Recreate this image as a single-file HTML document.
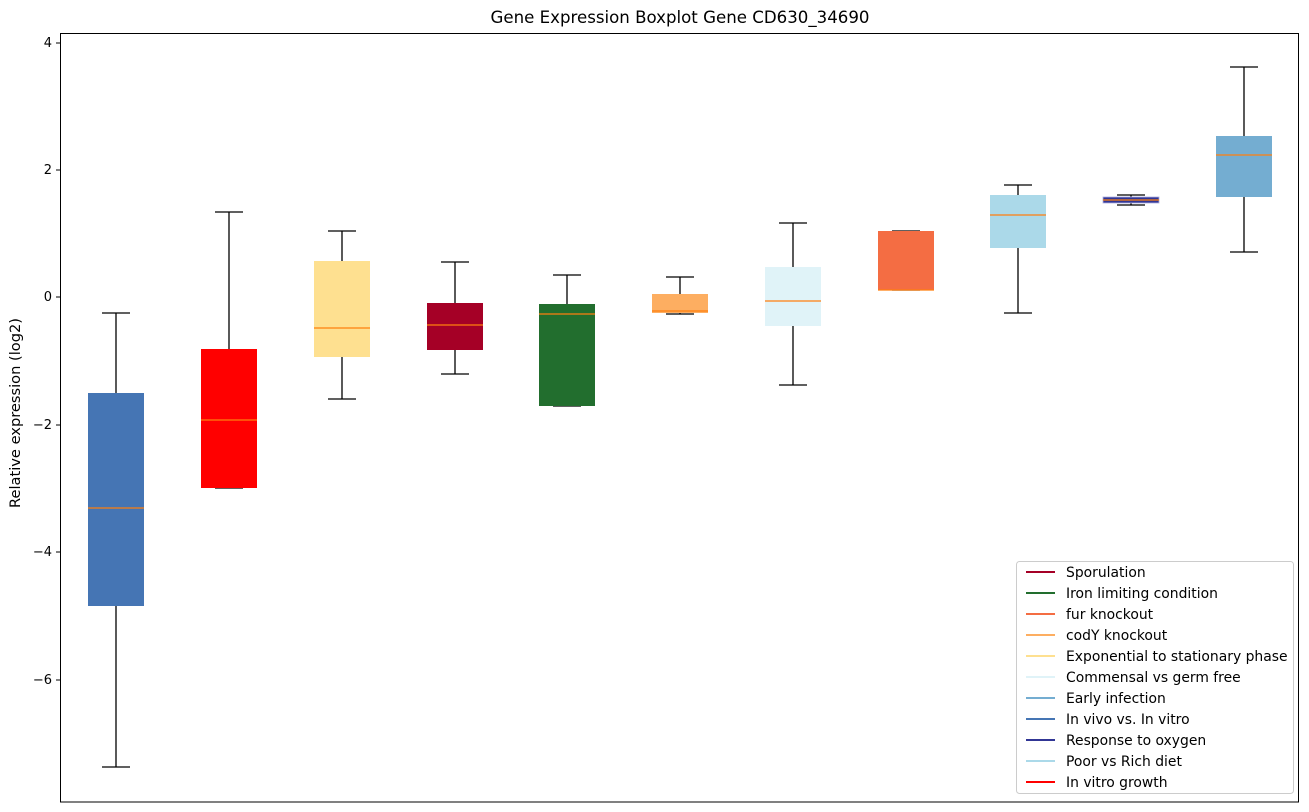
<!DOCTYPE html>
<html><head><meta charset="utf-8"><style>body{margin:0;background:#fff}svg{display:block}text{font-family:"DejaVu Sans","Liberation Sans",sans-serif}</style></head><body>
<svg width="1309" height="812" viewBox="0 0 1309 812" xmlns="http://www.w3.org/2000/svg">
<text x="680" y="23" font-size="16.6" text-anchor="middle" textLength="379" lengthAdjust="spacingAndGlyphs" fill="#000">Gene Expression Boxplot Gene CD630_34690</text>
<g stroke="#000" stroke-width="1" font-size="13" text-anchor="end" fill="#000">
<line x1="56" y1="43" x2="60" y2="43"/><text x="52" y="47" stroke="none">4</text>
<line x1="56" y1="170" x2="60" y2="170"/><text x="52" y="174" stroke="none">2</text>
<line x1="56" y1="297" x2="60" y2="297"/><text x="52" y="301" stroke="none">0</text>
<line x1="56" y1="425" x2="60" y2="425"/><text x="52" y="429" stroke="none">−2</text>
<line x1="56" y1="552" x2="60" y2="552"/><text x="52" y="556" stroke="none">−4</text>
<line x1="56" y1="680" x2="60" y2="680"/><text x="52" y="684" stroke="none">−6</text>
</g>
<text transform="translate(20,413) rotate(-90)" font-size="14" text-anchor="middle" textLength="190" lengthAdjust="spacingAndGlyphs">Relative expression (log2)</text>
<g stroke-width="1.3">
<g><line x1="116" y1="313" x2="116" y2="767" stroke="#000"/><line x1="102" y1="313" x2="130" y2="313" stroke="#000"/><line x1="102" y1="767" x2="130" y2="767" stroke="#000"/><rect x="88" y="393" width="56" height="213" fill="#4575b4"/><line x1="88" y1="508" x2="144" y2="508" stroke="#ff7f0e"/></g>
<g><line x1="229" y1="212" x2="229" y2="488" stroke="#000"/><line x1="215" y1="212" x2="243" y2="212" stroke="#000"/><line x1="215" y1="488" x2="243" y2="488" stroke="#000"/><rect x="201" y="349" width="56" height="139" fill="#ff0000"/><line x1="201" y1="420" x2="257" y2="420" stroke="#ff7f0e"/></g>
<g><line x1="342" y1="231" x2="342" y2="399" stroke="#000"/><line x1="328" y1="231" x2="356" y2="231" stroke="#000"/><line x1="328" y1="399" x2="356" y2="399" stroke="#000"/><rect x="314" y="261" width="56" height="96" fill="#fee090"/><line x1="314" y1="328" x2="370" y2="328" stroke="#ff7f0e"/></g>
<g><line x1="455" y1="262" x2="455" y2="374" stroke="#000"/><line x1="441" y1="262" x2="469" y2="262" stroke="#000"/><line x1="441" y1="374" x2="469" y2="374" stroke="#000"/><rect x="427" y="303" width="56" height="47" fill="#a50026"/><line x1="427" y1="325" x2="483" y2="325" stroke="#ff7f0e"/></g>
<g><line x1="567" y1="275" x2="567" y2="406" stroke="#000"/><line x1="553" y1="275" x2="581" y2="275" stroke="#000"/><line x1="553" y1="406" x2="581" y2="406" stroke="#000"/><rect x="539" y="304" width="56" height="102" fill="#226e2e"/><line x1="539" y1="314" x2="595" y2="314" stroke="#ff7f0e"/></g>
<g><line x1="680" y1="277" x2="680" y2="314" stroke="#000"/><line x1="666" y1="277" x2="694" y2="277" stroke="#000"/><line x1="666" y1="314" x2="694" y2="314" stroke="#000"/><rect x="652" y="294" width="56" height="19" fill="#fdae61"/><line x1="652" y1="311" x2="708" y2="311" stroke="#ff7f0e"/></g>
<g><line x1="793" y1="223" x2="793" y2="385" stroke="#000"/><line x1="779" y1="223" x2="807" y2="223" stroke="#000"/><line x1="779" y1="385" x2="807" y2="385" stroke="#000"/><rect x="765" y="267" width="56" height="59" fill="#e0f3f8"/><line x1="765" y1="301" x2="821" y2="301" stroke="#ff7f0e"/></g>
<g><line x1="892" y1="231" x2="920" y2="231" stroke="#000"/><line x1="892" y1="290" x2="920" y2="290" stroke="#000"/><rect x="878" y="231" width="56" height="59" fill="#f46d43"/><line x1="878" y1="290" x2="934" y2="290" stroke="#ff7f0e"/></g>
<g><line x1="1018" y1="185" x2="1018" y2="313" stroke="#000"/><line x1="1004" y1="185" x2="1032" y2="185" stroke="#000"/><line x1="1004" y1="313" x2="1032" y2="313" stroke="#000"/><rect x="990" y="195" width="56" height="53" fill="#abd9e9"/><line x1="990" y1="215" x2="1046" y2="215" stroke="#ff7f0e"/></g>
<g><line x1="1131" y1="195" x2="1131" y2="205" stroke="#000"/><line x1="1117" y1="195" x2="1145" y2="195" stroke="#000"/><line x1="1117" y1="205" x2="1145" y2="205" stroke="#000"/><rect x="1103" y="197" width="56" height="6" fill="#313695" stroke="#b0b0e0" stroke-width="0.8"/><line x1="1103" y1="200" x2="1159" y2="200" stroke="#ff7f0e"/></g>
<g><line x1="1244" y1="67" x2="1244" y2="252" stroke="#000"/><line x1="1230" y1="67" x2="1258" y2="67" stroke="#000"/><line x1="1230" y1="252" x2="1258" y2="252" stroke="#000"/><rect x="1216" y="136" width="56" height="61" fill="#74add1"/><line x1="1216" y1="155" x2="1272" y2="155" stroke="#ff7f0e"/></g>
</g>
<rect x="60.5" y="33.5" width="1238" height="768.5" fill="none" stroke="#000" stroke-width="1"/>
<rect x="1016.5" y="561.5" width="277" height="232" rx="3" fill="#fff" fill-opacity="0.8" stroke="#ccc"/>
<g font-size="13.9" stroke-width="2">
<line x1="1026" y1="572" x2="1055" y2="572" stroke="#a50026"/><text x="1066" y="577">Sporulation</text>
<line x1="1026" y1="593" x2="1055" y2="593" stroke="#226e2e"/><text x="1066" y="598">Iron limiting condition</text>
<line x1="1026" y1="614" x2="1055" y2="614" stroke="#f46d43"/><text x="1066" y="619">fur knockout</text>
<line x1="1026" y1="635" x2="1055" y2="635" stroke="#fdae61"/><text x="1066" y="640">codY knockout</text>
<line x1="1026" y1="656" x2="1055" y2="656" stroke="#fee090"/><text x="1066" y="661">Exponential to stationary phase</text>
<line x1="1026" y1="677" x2="1055" y2="677" stroke="#e0f3f8"/><text x="1066" y="682">Commensal vs germ free</text>
<line x1="1026" y1="698" x2="1055" y2="698" stroke="#74add1"/><text x="1066" y="703">Early infection</text>
<line x1="1026" y1="719" x2="1055" y2="719" stroke="#4575b4"/><text x="1066" y="724">In vivo vs. In vitro</text>
<line x1="1026" y1="740" x2="1055" y2="740" stroke="#313695"/><text x="1066" y="745">Response to oxygen</text>
<line x1="1026" y1="761" x2="1055" y2="761" stroke="#abd9e9"/><text x="1066" y="766">Poor vs Rich diet</text>
<line x1="1026" y1="782" x2="1055" y2="782" stroke="#ff0000"/><text x="1066" y="787">In vitro growth</text>
</g>
</svg>
</body></html>
